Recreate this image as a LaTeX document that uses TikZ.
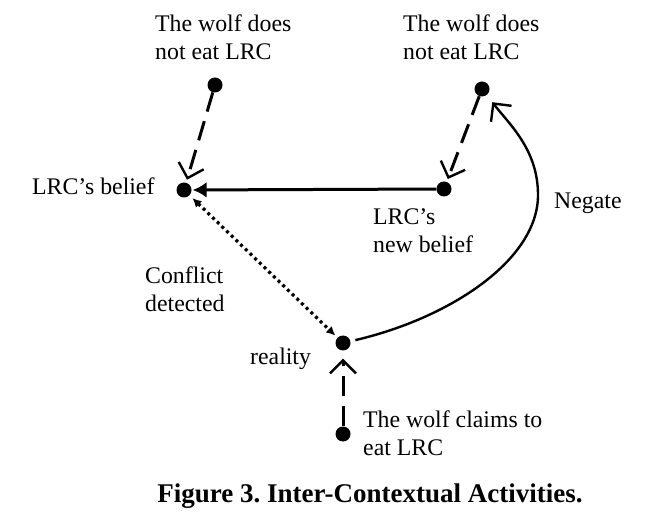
\documentclass[tikz,border=0pt]{standalone}
\usepackage{fontspec}
\setmainfont{Liberation Serif}
\usetikzlibrary{arrows.meta}
\frenchspacing
\begin{document}
\begin{tikzpicture}[x=1pt,y=1pt,
  dot/.style={circle,fill=black,inner sep=0pt,minimum size=15pt},
  lbl/.style={anchor=base west,inner sep=0pt,align=left,font=\fontsize{23.8}{28}\selectfont},
  barb/.style={-{Straight Barb[length=13pt,width=26pt,line width=2.4pt]}},
  dashedarrow/.style={line width=3pt,dash pattern=on 20pt off 10pt,barb},
  solidarrow/.style={line width=3pt,-{Latex[length=14pt,width=16pt]}},
  dottedarrow/.style={line width=3.2pt,dash pattern=on 3pt off 3.5pt,{Latex[length=9pt,width=9pt]}-{Latex[length=9pt,width=9pt]}},
  curvearrow/.style={line width=2.4pt,barb}]
\useasboundingbox (0,0) rectangle (663,530);
% dots
\node[dot] (A) at (215,445) {};
\node[dot] (B) at (482,441) {};
\node[dot] (C) at (184,340) {};
\node[dot] (D) at (444,341) {};
\node[dot] (E) at (343,187) {};
\node[dot] (F) at (343,96) {};
% labels (anchor = baseline of last line)
\node[lbl] (tA) at (155,470) {The wolf does\\not eat LRC};
\node[lbl] (tB) at (403,470) {The wolf does\\not eat LRC};
\node[lbl] (tC) at (32,335) {LRC’s belief};
\node[lbl] (tD) at (373,277) {LRC’s\\new belief};
\node[lbl] (tN) at (554,321) {Negate};
\node[lbl] (tK) at (145,218) {Conflict\\detected};
\node[lbl] (tE) at (250,165) {reality};
\node[lbl] (tF) at (363,75) {The wolf claims to\\eat LRC};
\node[anchor=base,inner sep=0pt,font=\bfseries\fontsize{27}{30}\selectfont] (cap) at (370,28) {Figure 3. Inter-Contextual Activities.};
% connectors
\draw[dashedarrow,shorten >=3pt] (A) -- (C);
\draw[dashedarrow,shorten >=3pt] (B) -- (D);
\draw[solidarrow,shorten >=1pt] (D) -- (C);
\draw[dottedarrow,shorten <=4pt,shorten >=3pt] (C) -- (E);
\draw[dashedarrow,shorten >=8pt] (F) -- (E);
\draw[curvearrow,shorten <=5pt,shorten >=9pt] (E) .. controls (450,212) and (538,270) .. (538,335) .. controls (538,380) and (510,405) .. (B);
\end{tikzpicture}
\end{document}
